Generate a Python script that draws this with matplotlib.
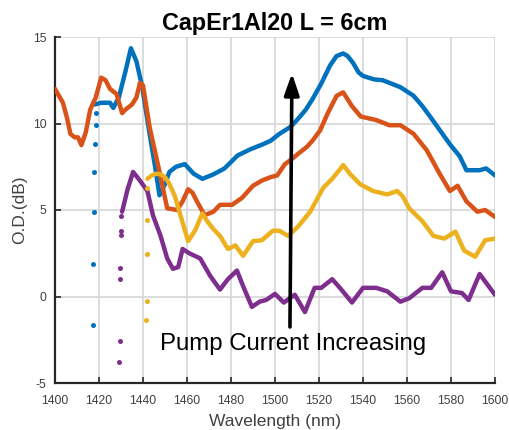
import matplotlib
matplotlib.use("Agg")
import matplotlib.pyplot as plt

plt.rcParams['font.family'] = ['Liberation Sans', 'DejaVu Sans']
plt.rcParams['axes.unicode_minus'] = False

# ---------------- data ----------------
title = "CapEr1Al20 L = 6cm"
xlabel = "Wavelength (nm)"
ylabel = "O.D.(dB)"
annotation = "Pump Current Increasing"

blue_x = [1418.2, 1421, 1425, 1426.5, 1429, 1432, 1434.5, 1437, 1439.5, 1443, 1445.5,
          1447.5, 1450, 1452, 1455, 1459, 1463, 1467, 1472, 1477, 1483, 1488.6, 1494.5,
          1498, 1502, 1507, 1510, 1514, 1517, 1521, 1525, 1528, 1531, 1533, 1535.5, 1538,
          1540, 1545, 1549, 1557, 1563, 1567, 1570.5, 1575, 1579.5, 1584, 1587, 1590,
          1593, 1596, 1600]
blue_y = [11.1, 11.2, 11.2, 10.9, 11.5, 13.0, 14.35, 13.6, 12.2, 9.4, 7.5,
          5.85, 6.5, 7.2, 7.5, 7.65, 7.1, 6.8, 7.06, 7.4, 8.15, 8.5, 8.8,
          9.0, 9.4, 9.8, 10.2, 10.8, 11.4, 12.3, 13.35, 13.9, 14.05, 13.9, 13.5, 12.95,
          12.75, 12.55, 12.5, 12.1, 11.6, 11.0, 10.4, 9.6, 8.8, 8.1, 7.3, 7.3,
          7.3, 7.4, 7.0]

orange_x = [1400, 1403.6, 1405.5, 1407, 1409, 1410.5, 1412, 1414, 1416, 1418.5, 1421,
            1423, 1425, 1428, 1430.5, 1432, 1435, 1437, 1438.6, 1440, 1443, 1447, 1451,
            1455.5, 1458, 1460.5, 1462.5, 1464.5, 1468, 1472, 1475, 1480.5, 1485, 1490,
            1494, 1498, 1501, 1504.5, 1507.7, 1511, 1514.5, 1517, 1520.5, 1524, 1528,
            1531, 1535, 1539, 1546, 1552, 1557, 1563, 1569, 1575, 1579.5, 1583, 1587,
            1592, 1595.5, 1600]
orange_y = [12.0, 11.2, 10.3, 9.4, 9.2, 9.2, 8.75, 9.5, 10.8, 11.5, 12.65,
            12.5, 12.0, 11.7, 10.6, 10.8, 11.1, 11.5, 12.35, 12.2, 9.8, 7.5, 5.1,
            5.0, 5.5, 6.2, 6.0, 5.5, 4.7, 4.9, 5.3, 5.3, 5.7, 6.4,
            6.7, 6.9, 7.0, 7.65, 7.95, 8.3, 8.65, 9.0, 9.6, 10.6, 11.6,
            11.8, 11.0, 10.4, 10.2, 9.9, 9.9, 9.4, 8.45, 7.06, 6.1, 6.4, 5.5,
            4.9, 5.0, 4.6]

yellow_x = [1442, 1444, 1446, 1448, 1450, 1452, 1454.5, 1457, 1460.5, 1463.6, 1467,
            1469.5, 1472, 1475, 1478.6, 1482, 1485.5, 1490, 1494, 1499, 1502, 1506,
            1510.5, 1516, 1522, 1526, 1529.5, 1531, 1534, 1538.6, 1544.5, 1551, 1555.5,
            1558, 1561, 1567, 1572, 1577, 1582, 1586, 1591, 1595.5, 1600]
yellow_y = [6.8, 7.0, 7.1, 7.06, 6.9, 6.5, 5.8, 4.7, 3.2, 3.8, 4.8,
            4.3, 3.9, 3.5, 2.75, 2.95, 2.35, 3.2, 3.25, 3.8, 3.8, 3.5,
            4.05, 4.9, 6.3, 6.8, 7.35, 7.6, 7.1, 6.5, 6.1, 5.9, 6.1,
            5.8, 5.1, 4.35, 3.5, 3.35, 3.75, 2.65, 2.3, 3.25, 3.35]

purple_x = [1430.5, 1433, 1435.5, 1438.6, 1442, 1444.5, 1448, 1451, 1453.6, 1456, 1458,
            1461, 1466, 1470.5, 1475, 1478.6, 1482.7, 1485.5, 1489.5, 1493, 1496, 1500,
            1504, 1509, 1513.6, 1518, 1521, 1526, 1529.5, 1535, 1540, 1546, 1551, 1557,
            1561, 1567, 1571, 1576, 1580, 1585, 1588, 1593, 1600]
purple_y = [4.9, 6.2, 7.2, 6.7, 6.1, 4.7, 3.5, 2.2, 1.6, 1.7, 2.75,
            2.5, 2.2, 1.2, 0.4, 1.0, 1.5, 0.6, -0.6, -0.3, -0.2, 0.15,
            -0.35, 0.1, -0.9, 0.5, 0.5, 1.0, 0.5, -0.35, 0.5, 0.5, 0.3, -0.3,
            -0.1, 0.5, 0.5, 1.4, 0.3, 0.2, -0.2, 1.3, 0.1]

# sparse points at the short-wavelength start of each trace
blue_dots_x = [1418.5, 1418.5, 1418.2, 1417.9, 1417.8, 1417.4, 1417.1]
blue_dots_y = [10.6, 9.9, 8.8, 7.2, 4.9, 1.9, -1.65]
purple_dots_x = [1430.0, 1430.0, 1430.0, 1429.7, 1429.7, 1429.4, 1429.2]
purple_dots_y = [4.65, 3.8, 3.55, 1.65, 1.0, -2.6, -3.8]
yellow_dots_x = [1442.0, 1441.6, 1441.6, 1441.6, 1441.4]
yellow_dots_y = [6.25, 4.43, 2.47, -0.24, -1.35]

arrow_start = (1506.8, -1.76)
arrow_end = (1507.7, 12.9)
text_pos = (1508.2, -2.75)

x_ticks = [1400, 1420, 1440, 1460, 1480, 1500, 1520, 1540, 1560, 1580, 1600]
y_ticks = [-5, 0, 5, 10, 15]

colors = {'blue': '#0072BD', 'orange': '#D95319', 'yellow': '#EDB120', 'purple': '#7E2F8E'}

# ---------------- figure ----------------
fig = plt.figure(figsize=(5.09, 4.30), dpi=100)
ax = fig.add_axes([55/509, 47/430, 440/509, 346/430])

lw = 3.2
for xs, ys, c in [(blue_x, blue_y, 'blue'), (orange_x, orange_y, 'orange'),
                  (yellow_x, yellow_y, 'yellow'), (purple_x, purple_y, 'purple')]:
    ax.plot(xs, ys, color=colors[c], lw=lw, solid_capstyle='round',
            solid_joinstyle='round', zorder=3)

ms = 7.2
ax.plot(blue_dots_x, blue_dots_y, '.', color=colors['blue'], ms=ms, zorder=3, markeredgewidth=0)
ax.plot(purple_dots_x, purple_dots_y, '.', color=colors['purple'], ms=ms, zorder=3, markeredgewidth=0)
ax.plot(yellow_dots_x, yellow_dots_y, '.', color=colors['yellow'], ms=ms, zorder=3, markeredgewidth=0)

ax.annotate('', xy=arrow_end, xytext=arrow_start,
            arrowprops=dict(arrowstyle='-|>,head_length=1.3,head_width=0.45',
                            color='black', lw=2.6, shrinkA=0, shrinkB=0),
            zorder=4)
ax.text(text_pos[0], text_pos[1], annotation, ha='center', va='center',
        fontsize=17.3, color='black', zorder=5)

ax.set_xlim(1400, 1600)
ax.set_ylim(-5, 15)
ax.set_xticks(x_ticks)
ax.set_yticks(y_ticks)
ax.grid(True, color='#d9d9d9', lw=1.3)
ax.set_axisbelow(True)
for s in ['top', 'right']:
    ax.spines[s].set_visible(False)
for s in ['left', 'bottom']:
    ax.spines[s].set_linewidth(1.6)
    ax.spines[s].set_color('#262626')
ax.tick_params(direction='in', length=4, width=1.2, labelsize=8.7,
               labelcolor='#404040', color='#262626', pad=6)
ax.tick_params(axis='x', pad=9)

ax.set_title(title, fontsize=16.8, fontweight='bold', pad=5, color='black')
ax.set_xlabel(xlabel, fontsize=12.5, color='#404040', labelpad=5)
ax.set_ylabel(ylabel, fontsize=12.5, color='#404040', labelpad=4)

fig.savefig('out.png', dpi=100)
